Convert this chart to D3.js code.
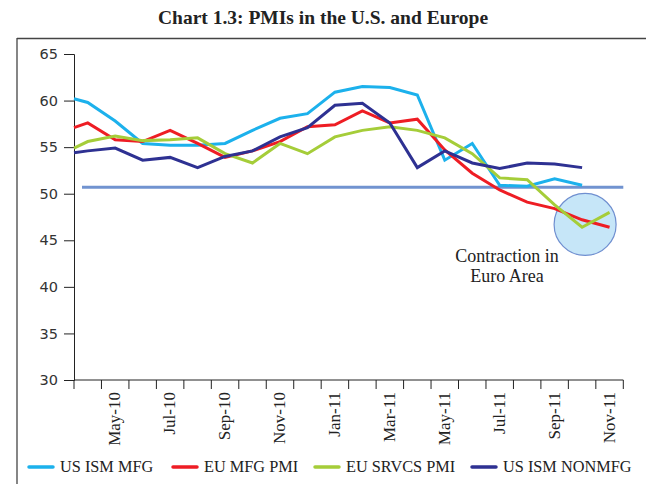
<!DOCTYPE html>
<html><head><meta charset="utf-8">
<script src="https://cdn.jsdelivr.net/npm/d3@7"></script>
<style>
html,body{margin:0;padding:0;background:#fff;}
svg{display:block;}
</style></head>
<body>
<svg id="chart" width="646" height="484"></svg>
<script>
// ---- data ----
const months = ["Apr-10","May-10","Jun-10","Jul-10","Aug-10","Sep-10","Oct-10","Nov-10","Dec-10",
  "Jan-11","Feb-11","Mar-11","Apr-11","May-11","Jun-11","Jul-11","Aug-11","Sep-11","Oct-11","Nov-11"];
const tickLabels = ["May-10","Jul-10","Sep-10","Nov-10","Jan-11","Mar-11","May-11","Jul-11","Sep-11","Nov-11"];
const yTicks = [30,35,40,45,50,55,60,65];
// first value of each series sits on the value axis, the rest on the months above
const usIsmMfg    = [60.2,59.8,57.8,55.4,55.2,55.2,55.4,56.8,58.1,58.6,60.9,61.5,61.4,60.6,53.6,55.4,50.9,50.8,51.6,50.9];
const euMfgPmi    = [57.1,57.6,55.8,55.6,56.8,55.4,53.9,54.6,55.6,57.2,57.4,58.9,57.6,58.0,54.7,52.2,50.4,49.1,48.4,47.2,46.4];
const euSrvcsPmi  = [54.9,55.6,56.2,55.7,55.8,56.0,54.3,53.3,55.4,54.3,56.1,56.8,57.2,56.8,56.0,54.3,51.7,51.5,48.8,46.4,48.0];
const usIsmNonMfg = [54.4,54.6,54.9,53.6,53.9,52.8,54.0,54.6,56.1,57.1,59.5,59.7,57.6,52.8,54.6,53.3,52.7,53.3,53.2,52.8];
const seriesNames  = ["US ISM MFG","EU MFG PMI","EU SRVCS PMI","US ISM NONMFG"];
const seriesColors = ["#1cb1ec","#ee1d24","#a5cd39","#2e3192"];
const referenceLevel = 50.7;
const annotationLines = ["Contraction in","Euro Area"];
const annotationCenter = {month:"Oct-11", value:46.7};

// ---- layout ----
const svg = d3.select("#chart");
const pLeft = 74, pRight = 623.3, pTop = 54, pBottom = 380;
const x = d3.scaleBand().domain(months).range([pLeft, pRight]).paddingInner(0).paddingOuter(0);
const y = d3.scaleLinear().domain([30,65]).range([pBottom, pTop]);
const bw = x.bandwidth();
const px = i => i === 0 ? x.range()[0] : x(months[i-1]) + bw/2;

// frame
svg.append("line").attr("x1",17).attr("x2",646).attr("y1",38.5).attr("y2",38.5).attr("stroke","#444").attr("stroke-width",1.3);
svg.append("line").attr("x1",17).attr("x2",17).attr("y1",38).attr("y2",484).attr("stroke","#444").attr("stroke-width",1.3);

// title
svg.append("text").attr("x",323).attr("y",24).attr("text-anchor","middle")
  .attr("font-family","Liberation Serif").attr("font-weight","bold").attr("font-size",19.5).attr("fill","#222")
  .text("Chart 1.3: PMIs in the U.S. and Europe");

// y axis
const yAxis = d3.axisLeft(y).tickValues(yTicks).tickSize(10).tickPadding(6).tickFormat(d3.format("d"));
const gy = svg.append("g").attr("transform",`translate(${pLeft},0)`).call(yAxis);
gy.select(".domain").attr("stroke","#222");
gy.selectAll(".tick line").attr("stroke","#222");
gy.selectAll(".tick text").attr("font-family","DejaVu Sans").attr("font-size",14.5).attr("fill","#333");

// x axis: ticks at band boundaries
const boundaries = months.map(m => x(m)).concat([x.range()[1]]);
const gx = svg.append("g");
gx.append("line").attr("x1",pLeft).attr("x2",pRight).attr("y1",pBottom).attr("y2",pBottom).attr("stroke","#222");
gx.selectAll("line.t").data(boundaries).join("line").attr("class","t")
  .attr("x1",d=>d).attr("x2",d=>d).attr("y1",pBottom).attr("y2",pBottom+9).attr("stroke","#222");
gx.selectAll("text").data(tickLabels).join("text")
  .attr("transform",d=>`translate(${x(d)+bw/2+5},${pBottom+12}) rotate(-90)`)
  .attr("text-anchor","end")
  .attr("font-family","Liberation Serif").attr("font-size",17).attr("fill","#222")
  .text(d=>d);

// annotation circle (below lines)
const cx = x(annotationCenter.month) + bw/2 + 3, cy = y(annotationCenter.value);
svg.append("circle").attr("cx",cx).attr("cy",cy).attr("r",31)
  .attr("fill","#c6e6f8").attr("stroke","#6f8fd0").attr("stroke-width",1.2);

// reference line
svg.append("line").attr("x1",pLeft+8).attr("x2",pRight).attr("y1",y(referenceLevel)).attr("y2",y(referenceLevel))
  .attr("stroke","#7193d0").attr("stroke-width",3);

// series lines
const allSeries = [usIsmMfg, euMfgPmi, euSrvcsPmi, usIsmNonMfg];
const line = d3.line().x((d,i)=>px(i)).y(d=>y(d));
allSeries.forEach((s,k)=>{
  svg.append("path").datum(s).attr("d",line).attr("fill","none")
    .attr("stroke",seriesColors[k]).attr("stroke-width",3).attr("stroke-linejoin","miter");
});

// annotation text
svg.selectAll("text.ann").data(annotationLines).join("text").attr("class","ann")
  .attr("x",cx-78).attr("y",(d,i)=>cy+38+i*20).attr("text-anchor","middle")
  .attr("font-family","Liberation Serif").attr("font-size",18).attr("fill","#222").text(d=>d);

// legend
const legendX = [29,173,315,472];
const lg = svg.append("g");
seriesNames.forEach((n,k)=>{
  lg.append("line").attr("x1",legendX[k]).attr("x2",legendX[k]+24).attr("y1",467).attr("y2",467)
    .attr("stroke",seriesColors[k]).attr("stroke-width",3.5).attr("stroke-linecap","round");
  lg.append("text").attr("x",legendX[k]+31).attr("y",472)
    .attr("font-family","Liberation Serif").attr("font-size",16.3).attr("fill","#222").text(n);
});
</script>
</body></html>
